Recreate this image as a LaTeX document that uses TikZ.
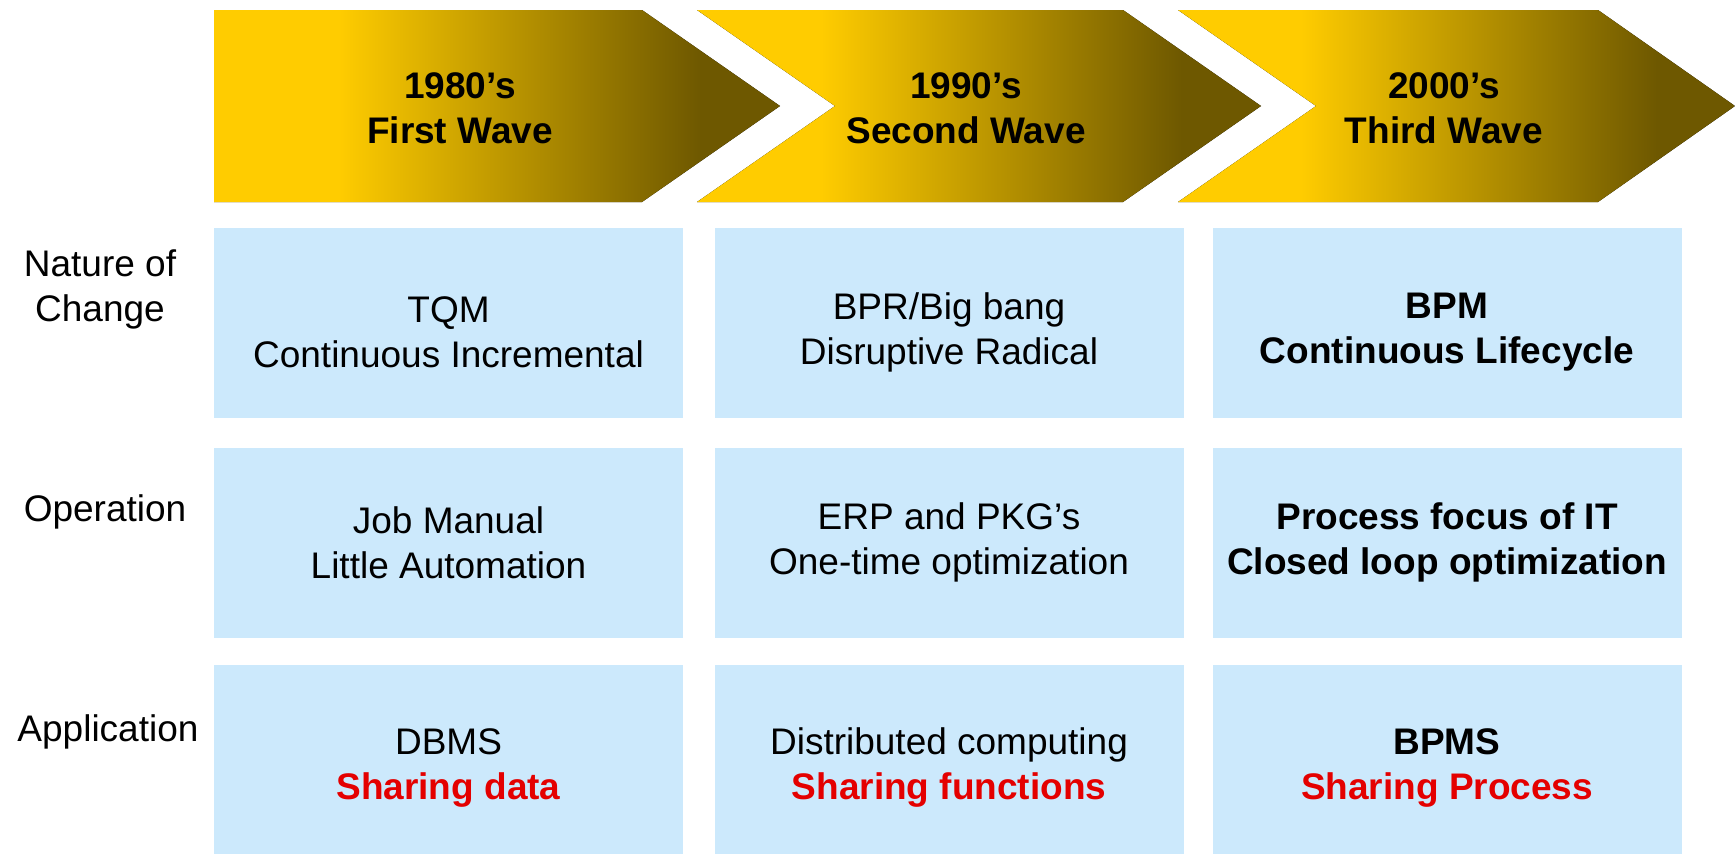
\documentclass[tikz,border=0pt]{standalone}
\usepackage{fontspec}
\setmainfont{Liberation Sans}
\usepackage{tikz}
\usetikzlibrary{positioning}
\definecolor{waveyellow}{RGB}{255,204,0}
\definecolor{wavedark}{RGB}{110,88,0}
\definecolor{cellblue}{RGB}{204,233,252}
\definecolor{sharered}{RGB}{228,0,0}
\pgfdeclarehorizontalshading{wavefill}{100bp}{color(0bp)=(waveyellow); color(36bp)=(waveyellow); color(68bp)=(wavedark); color(100bp)=(wavedark)}

\begin{document}
\begin{tikzpicture}[x=1pt,y=-1pt,
        every node/.style={font=\fontsize{37}{45}\selectfont,align=center,inner sep=0pt},
        bold/.style={font=\fontsize{37}{45}\selectfont\bfseries},
        wave/.style={shading=wavefill},
        cell/.style={fill=cellblue,minimum width=469pt,minimum height=190pt}]
        \useasboundingbox (0,0) rectangle (1735,854);
        \fill[wave] (214,10) -- (642,10) -- (780,106) -- (642,202) -- (214,202) -- cycle;
        \fill[wave] (697,10) -- (1123,10) -- (1261,106) -- (1123,202) -- (697,202) -- (835,106) -- cycle;
        \fill[wave] (1178,10) -- (1598,10) -- (1735,106) -- (1598,202) -- (1178,202) -- (1316,106) -- cycle;
        \node[bold] (wave1) at (460,108) {1980’s\\First Wave};
        \node[bold] (wave2) at (966,108) {1990’s\\Second Wave};
        \node[bold] (wave3) at (1444,108) {2000’s\\Third Wave};

        \node (lbnature) at (100,289) {Nature of\\Change};
        \node (lbop) at (105,512) {Operation};
        \node (lbapp) at (108,732) {Application};

        \node[cell] (nature1) at (448.5,323) {};
        \node[cell] (nature2) at (949,323) {};
        \node[cell] (nature3) at (1447,323) {};
        \node[cell] (op1) at (448.5,542.5) {};
        \node[cell] (op2) at (949,542.5) {};
        \node[cell] (op3) at (1447,542.5) {};
        \node[cell] (app1) at (448.5,759.5) {};
        \node[cell] (app2) at (949,759.5) {};
        \node[cell] (app3) at (1447,759.5) {};

        \node[yshift=-9pt] (tqm) at (nature1) {TQM\\Continuous Incremental};
        \node[yshift=-9pt] (bpr) at (nature2) {BPR/Big bang\\Disruptive Radical};
        \node[yshift=-9pt,bold] (bpm) at (nature3) {BPM\\Continuous Lifecycle};
        \node (job) at (op1) {Job Manual\\Little Automation};
        \node (erp) at (op2) {ERP and PKG’s\\One-time optimization};
        \node[bold] (focus) at (op3) {Process focus of IT\\Closed loop optimization};
        \node[yshift=-8pt] (dbms) at (app1) {DBMS\\\textcolor{sharered}{\bfseries Sharing data}};
        \node[yshift=-8pt] (dist) at (app2) {Distributed computing\\\textcolor{sharered}{\bfseries Sharing functions}};
        \node[yshift=-8pt] (bpms) at (app3) {\bfseries BPMS\\\textcolor{sharered}{\bfseries Sharing Process}};
    \end{tikzpicture}
\end{document}
